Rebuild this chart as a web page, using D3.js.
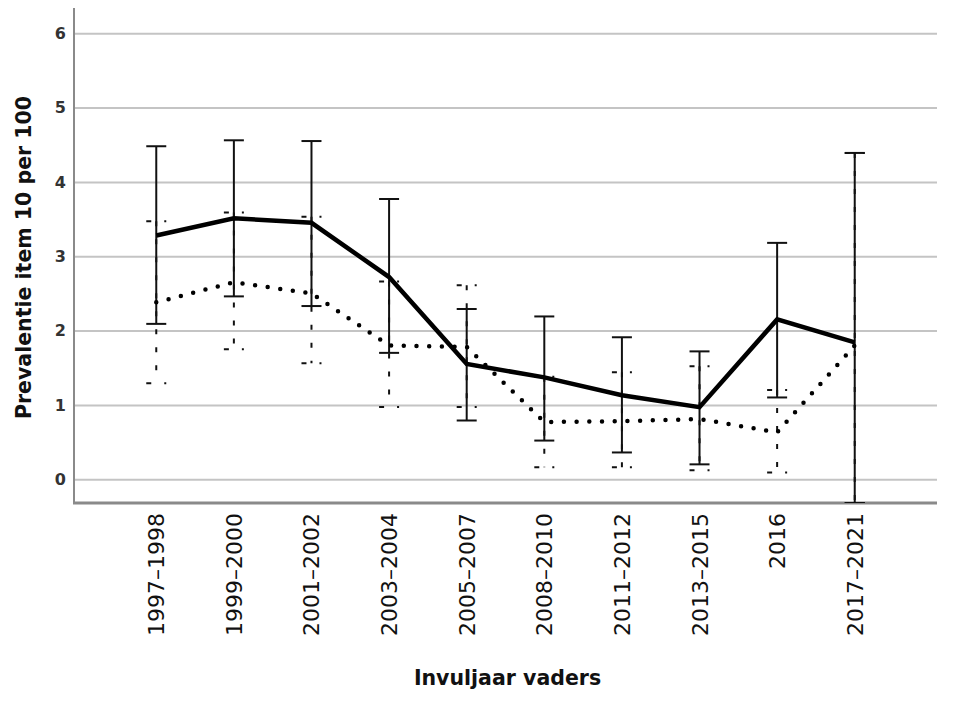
<!DOCTYPE html>
<html>
<head>
<meta charset="utf-8">
<script src="https://cdn.jsdelivr.net/npm/d3@7"></script>
<style>
  html, body { margin: 0; padding: 0; background: #fff; }
  svg { display: block; }
</style>
</head>
<body>
<svg id="chart" width="958" height="702"></svg>
<script>
// ---- data ----
const categories = ["1997–1998","1999–2000","2001–2002","2003–2004","2005–2007","2008–2010","2011–2012","2013–2015","2016","2017–2021"];
const solidMean  = [3.28, 3.51, 3.45, 2.72, 1.55, 1.37, 1.13, 0.97, 2.15, 1.84];
const solidLow   = [2.09, 2.46, 2.33, 1.70, 0.79, 0.52, 0.36, 0.20, 1.10, -0.32];
const solidHigh  = [4.48, 4.56, 4.55, 3.77, 2.29, 2.19, 1.91, 1.72, 3.18, 4.39];
const dottedMean = [2.38, 2.65, 2.50, 1.80, 1.78, 0.77, 0.78, 0.81, 0.63, 1.80];
const dottedLow  = [1.29, 1.75, 1.56, 0.97, 0.97, 0.16, 0.16, 0.12, 0.09, -0.32];
const dottedHigh = [3.47, 3.59, 3.53, 2.66, 2.61, 1.38, 1.44, 1.52, 1.20, 4.39];
const yTicks = [0, 1, 2, 3, 4, 5, 6];
const yTitle = "Prevalentie item 10 per 100";
const xTitle = "Invuljaar vaders";

(function () {
// ---- layout ----
const svg = d3.select("#chart");
const pLeft = 74, pRight = 937, pTop = 8, pBottom = 503;

const x = d3.scalePoint().domain(categories).range([pLeft, pRight]).padding(1.06);
const y = d3.scaleLinear().domain([-0.32, 6.34]).range([pBottom, pTop]);

// gridlines
const yAxis = d3.axisLeft(y).tickValues(yTicks).tickSize(-(pRight - pLeft)).tickPadding(8).tickFormat(d3.format("d"));
const gy = svg.append("g").attr("transform", `translate(${pLeft},0)`).call(yAxis);
gy.select(".domain").remove();
gy.selectAll(".tick line").attr("stroke", "#c4c4c4").attr("stroke-width", 2);
gy.selectAll(".tick text")
  .attr("font-family", "DejaVu Sans, sans-serif").attr("font-size", 16).attr("font-weight", "bold")
  .attr("fill", "#333");

// axis lines
svg.append("line").attr("x1", pLeft).attr("x2", pLeft).attr("y1", pTop).attr("y2", pBottom)
  .attr("stroke", "#8a8a8a").attr("stroke-width", 2);
svg.append("line").attr("x1", pLeft - 1).attr("x2", pRight).attr("y1", pBottom).attr("y2", pBottom)
  .attr("stroke", "#8a8a8a").attr("stroke-width", 3);

// x axis labels
const xAxis = d3.axisBottom(x).tickSize(0).tickPadding(0);
const gx = svg.append("g").attr("transform", `translate(0,${pBottom})`).call(xAxis);
gx.select(".domain").remove();
gx.selectAll(".tick text")
  .attr("font-family", "DejaVu Sans, sans-serif").attr("font-size", 22).attr("fill", "#111")
  .attr("text-anchor", "end").attr("dy", null).attr("y", 0)
  .attr("transform", "translate(0,10) rotate(-90)")
  .attr("dominant-baseline", "central");

// clip to plot area
svg.append("clipPath").attr("id", "plotclip").append("rect")
  .attr("x", pLeft).attr("y", pTop).attr("width", pRight - pLeft).attr("height", pBottom - pTop);
const plot = svg.append("g").attr("clip-path", "url(#plotclip)");

const idx = d3.range(categories.length);
const capHalf = 10;

// dotted series error bars (dashed)
idx.forEach(i => {
  const cx = x(categories[i]);
  plot.append("line").attr("x1", cx).attr("x2", cx)
    .attr("y1", y(dottedHigh[i])).attr("y2", y(dottedLow[i]))
    .attr("stroke", "#111").attr("stroke-width", 2).attr("stroke-dasharray", "5,13");
  [dottedHigh[i], dottedLow[i]].forEach(v => {
    plot.append("line").attr("x1", cx - capHalf).attr("x2", cx + capHalf)
      .attr("y1", y(v)).attr("y2", y(v))
      .attr("stroke", "#111").attr("stroke-width", 2).attr("stroke-dasharray", "5,13,2,10");
  });
});

// solid series error bars
idx.forEach(i => {
  const cx = x(categories[i]);
  plot.append("line").attr("x1", cx).attr("x2", cx)
    .attr("y1", y(solidHigh[i])).attr("y2", y(solidLow[i]))
    .attr("stroke", "#111").attr("stroke-width", 2);
  [solidHigh[i], solidLow[i]].forEach(v => {
    plot.append("line").attr("x1", cx - capHalf).attr("x2", cx + capHalf)
      .attr("y1", y(v)).attr("y2", y(v))
      .attr("stroke", "#111").attr("stroke-width", 2);
  });
});

// lines
const mk = arr => d3.line().x((d, i) => x(categories[i])).y(d => y(d))(arr);

plot.append("path").attr("d", mk(dottedMean)).attr("fill", "none")
  .attr("stroke", "#000").attr("stroke-width", 4.5).attr("stroke-linecap", "round")
  .attr("stroke-dasharray", "0,12.7");
plot.append("path").attr("d", mk(solidMean)).attr("fill", "none")
  .attr("stroke", "#000").attr("stroke-width", 4.5).attr("stroke-linejoin", "miter");

// titles
svg.append("text").text(yTitle)
  .attr("font-family", "DejaVu Sans, sans-serif").attr("font-size", 20.5).attr("font-weight", "bold")
  .attr("fill", "#111").attr("text-anchor", "middle")
  .attr("transform", `translate(31,${(95 + 420) / 2}) rotate(-90)`);
svg.append("text").text(xTitle)
  .attr("font-family", "DejaVu Sans, sans-serif").attr("font-size", 20.5).attr("font-weight", "bold")
  .attr("fill", "#111").attr("text-anchor", "middle")
  .attr("x", (415 + 600) / 2).attr("y", 685);
})();
</script>
</body>
</html>
